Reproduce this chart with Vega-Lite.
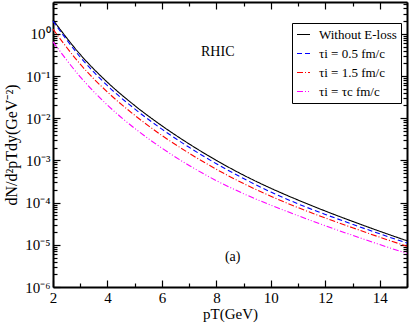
{
  "$schema": "https://vega.github.io/schema/vega-lite/v6.json",
  "autosize": {"type": "none"},
  "padding": {"left": 53, "top": 2, "right": 2, "bottom": 38},
  "width": 354,
  "height": 285,
  "background": "white",
  "config": {
    "view": {"stroke": null},
    "font": "Liberation Serif",
    "axis": {
      "grid": false,
      "domainColor": "black",
      "domainWidth": 2,
      "tickColor": "black",
      "tickWidth": 1.2,
      "labelFont": "Liberation Serif",
      "labelFontSize": 15,
      "labelColor": "black",
      "titleFont": "Liberation Serif",
      "titleFontSize": 15,
      "titleFontWeight": "normal",
      "titleColor": "black"
    }
  },
  "datasets": {
    "curves": [
      {"pT": 2, "y": 2.138, "s": "Without E-loss"},
      {"pT": 3, "y": 0.3236, "s": "Without E-loss"},
      {"pT": 4, "y": 0.07079, "s": "Without E-loss"},
      {"pT": 5, "y": 0.01995, "s": "Without E-loss"},
      {"pT": 6, "y": 0.006607, "s": "Without E-loss"},
      {"pT": 7, "y": 0.002455, "s": "Without E-loss"},
      {"pT": 8, "y": 0.001, "s": "Without E-loss"},
      {"pT": 9, "y": 0.0004467, "s": "Without E-loss"},
      {"pT": 10, "y": 0.0002188, "s": "Without E-loss"},
      {"pT": 11, "y": 0.0001148, "s": "Without E-loss"},
      {"pT": 12, "y": 0.0000631, "s": "Without E-loss"},
      {"pT": 13, "y": 0.0000359, "s": "Without E-loss"},
      {"pT": 14, "y": 0.0000209, "s": "Without E-loss"},
      {"pT": 15, "y": 0.00001245, "s": "Without E-loss"},
      {"pT": 2, "y": 1.995, "s": "τi = 0.5 fm/c"},
      {"pT": 3, "y": 0.2818, "s": "τi = 0.5 fm/c"},
      {"pT": 4, "y": 0.05888, "s": "τi = 0.5 fm/c"},
      {"pT": 5, "y": 0.0166, "s": "τi = 0.5 fm/c"},
      {"pT": 6, "y": 0.005495, "s": "τi = 0.5 fm/c"},
      {"pT": 7, "y": 0.002042, "s": "τi = 0.5 fm/c"},
      {"pT": 8, "y": 0.0008318, "s": "τi = 0.5 fm/c"},
      {"pT": 9, "y": 0.0003715, "s": "τi = 0.5 fm/c"},
      {"pT": 10, "y": 0.0001778, "s": "τi = 0.5 fm/c"},
      {"pT": 11, "y": 0.00009333, "s": "τi = 0.5 fm/c"},
      {"pT": 12, "y": 0.00005248, "s": "τi = 0.5 fm/c"},
      {"pT": 13, "y": 0.00003055, "s": "τi = 0.5 fm/c"},
      {"pT": 14, "y": 0.0000182, "s": "τi = 0.5 fm/c"},
      {"pT": 15, "y": 0.00001097, "s": "τi = 0.5 fm/c"},
      {"pT": 2, "y": 1.288, "s": "τi = 1.5 fm/c"},
      {"pT": 3, "y": 0.1905, "s": "τi = 1.5 fm/c"},
      {"pT": 4, "y": 0.04169, "s": "τi = 1.5 fm/c"},
      {"pT": 5, "y": 0.01175, "s": "τi = 1.5 fm/c"},
      {"pT": 6, "y": 0.00389, "s": "τi = 1.5 fm/c"},
      {"pT": 7, "y": 0.001479, "s": "τi = 1.5 fm/c"},
      {"pT": 8, "y": 0.0006166, "s": "τi = 1.5 fm/c"},
      {"pT": 9, "y": 0.0002818, "s": "τi = 1.5 fm/c"},
      {"pT": 10, "y": 0.0001413, "s": "τi = 1.5 fm/c"},
      {"pT": 11, "y": 0.00007586, "s": "τi = 1.5 fm/c"},
      {"pT": 12, "y": 0.00004315, "s": "τi = 1.5 fm/c"},
      {"pT": 13, "y": 0.00002541, "s": "τi = 1.5 fm/c"},
      {"pT": 14, "y": 0.00001514, "s": "τi = 1.5 fm/c"},
      {"pT": 15, "y": 0.000009226, "s": "τi = 1.5 fm/c"},
      {"pT": 2, "y": 0.6457, "s": "τi = τc fm/c"},
      {"pT": 3, "y": 0.0955, "s": "τi = τc fm/c"},
      {"pT": 4, "y": 0.02042, "s": "τi = τc fm/c"},
      {"pT": 5, "y": 0.005754, "s": "τi = τc fm/c"},
      {"pT": 6, "y": 0.00195, "s": "τi = τc fm/c"},
      {"pT": 7, "y": 0.0007586, "s": "τi = τc fm/c"},
      {"pT": 8, "y": 0.0003311, "s": "τi = τc fm/c"},
      {"pT": 9, "y": 0.0001622, "s": "τi = τc fm/c"},
      {"pT": 10, "y": 0.0000871, "s": "τi = τc fm/c"},
      {"pT": 11, "y": 0.00004898, "s": "τi = τc fm/c"},
      {"pT": 12, "y": 0.00002818, "s": "τi = τc fm/c"},
      {"pT": 13, "y": 0.00001679, "s": "τi = τc fm/c"},
      {"pT": 14, "y": 0.00001012, "s": "τi = τc fm/c"},
      {"pT": 15, "y": 0.000006237, "s": "τi = τc fm/c"}
    ],
    "notes": [
      {"pT": 8.05, "y": 0.37, "label": "RHIC"},
      {"pT": 8.6, "y": 0.0000051, "label": "(a)"}
    ]
  },
  "resolve": {"axis": {"x": "independent", "y": "independent"}},
  "layer": [
    {
      "data": {"name": "curves"},
      "mark": {"type": "line", "strokeWidth": 1.1, "interpolate": "monotone"},
      "encoding": {
        "x": {
          "field": "pT", "type": "quantitative",
          "scale": {"domain": [2, 15], "nice": false, "zero": false},
          "axis": {
            "orient": "bottom",
            "title": "pT(GeV)",
            "titlePadding": 1,
            "values": [2,4,6,8,10,12,14],
            "tickSize": -7,
            "labelPadding": 10,
            "labelFlush": false
          }
        },
        "y": {
          "field": "y", "type": "quantitative",
          "scale": {"type": "log", "domain": [0.000001, 5.67], "nice": false, "zero": false},
          "axis": {
            "orient": "left",
            "title": "dN/d²pTdy(GeV⁻²)",
            "titleFontSize": 16,
            "titlePadding": 5,
            "values": [0.000001,0.00001,0.0001,0.001,0.01,0.1,1],
            "labelExpr": "['10⁻⁶','10⁻⁵','10⁻⁴','10⁻³','10⁻²','10⁻¹','10⁰'][round(log(datum.value)/LN10)+6]",
            "tickSize": -7,
            "labelPadding": 10,
            "labelFlush": false
          }
        },
        "color": {
          "field": "s", "type": "nominal",
          "scale": {
            "domain": ["Without E-loss", "τi = 0.5 fm/c", "τi = 1.5 fm/c", "τi = τc fm/c"],
            "range": ["#000000", "#0000ff", "#ff0000", "#ff00ff"]
          },
          "legend": {
            "title": null,
            "orient": "none",
            "legendX": 239,
            "legendY": 21,
            "strokeColor": "black",
            "fillColor": "white",
            "padding": 4,
            "rowPadding": 4,
            "symbolType": "stroke",
            "symbolSize": 169,
            "symbolStrokeWidth": 1.2,
            "labelFont": "Liberation Serif",
            "labelFontSize": 13,
            "labelColor": "black",
            "labelOffset": 8,
            "cornerRadius": 0
          }
        },
        "strokeDash": {
          "field": "s", "type": "nominal",
          "scale": {
            "domain": ["Without E-loss", "τi = 0.5 fm/c", "τi = 1.5 fm/c", "τi = τc fm/c"],
            "range": [[1, 0], [5, 3], [6, 2, 1, 2], [6, 2, 1, 2, 1, 2]]
          },
          "legend": {
            "title": null,
            "orient": "none",
            "legendX": 239,
            "legendY": 21,
            "strokeColor": "black",
            "fillColor": "white",
            "padding": 4,
            "rowPadding": 4,
            "symbolType": "stroke",
            "symbolSize": 169,
            "symbolStrokeWidth": 1.2,
            "labelFont": "Liberation Serif",
            "labelFontSize": 13,
            "labelColor": "black",
            "labelOffset": 8,
            "cornerRadius": 0
          }
        }
      }
    },
    {
      "data": {"name": "curves"},
      "mark": {"type": "line", "strokeOpacity": 0},
      "encoding": {
        "detail": {"field": "s", "type": "nominal"},
        "x": {
          "field": "pT", "type": "quantitative",
          "axis": {"orient": "top", "title": null, "labels": false, "values": [2,4,6,8,10,12,14], "tickSize": -7}
        },
        "y": {
          "field": "y", "type": "quantitative",
          "axis": {"orient": "right", "title": null, "labels": false, "values": [0.000001,0.00001,0.0001,0.001,0.01,0.1,1], "tickSize": -7}
        }
      }
    },
    {
      "data": {"name": "curves"},
      "mark": {"type": "line", "strokeOpacity": 0},
      "encoding": {
        "detail": {"field": "s", "type": "nominal"},
        "x": {
          "field": "pT", "type": "quantitative",
          "axis": {"orient": "bottom", "title": null, "labels": false, "domain": false, "values": [3,5,7,9,11,13,15], "tickSize": -4}
        },
        "y": {
          "field": "y", "type": "quantitative",
          "axis": {"orient": "left", "title": null, "labels": false, "domain": false, "tickSize": -4,
            "values": [0.000002,0.000003,0.000004,0.000005,0.000006,0.000007,0.000008,0.000009,0.00002,0.00003,0.00004,0.00005,0.00006,0.00007,0.00008,0.00009,0.0002,0.0003,0.0004,0.0005,0.0006,0.0007,0.0008,0.0009,0.002,0.003,0.004,0.005,0.006,0.007,0.008,0.009,0.02,0.03,0.04,0.05,0.06,0.07,0.08,0.09,0.2,0.3,0.4,0.5,0.6,0.7,0.8,0.9,2,3,4,5]}
        }
      }
    },
    {
      "data": {"name": "curves"},
      "mark": {"type": "line", "strokeOpacity": 0},
      "encoding": {
        "detail": {"field": "s", "type": "nominal"},
        "x": {
          "field": "pT", "type": "quantitative",
          "axis": {"orient": "top", "title": null, "labels": false, "domain": false, "values": [3,5,7,9,11,13,15], "tickSize": -4}
        },
        "y": {
          "field": "y", "type": "quantitative",
          "axis": {"orient": "right", "title": null, "labels": false, "domain": false, "tickSize": -4,
            "values": [0.000002,0.000003,0.000004,0.000005,0.000006,0.000007,0.000008,0.000009,0.00002,0.00003,0.00004,0.00005,0.00006,0.00007,0.00008,0.00009,0.0002,0.0003,0.0004,0.0005,0.0006,0.0007,0.0008,0.0009,0.002,0.003,0.004,0.005,0.006,0.007,0.008,0.009,0.02,0.03,0.04,0.05,0.06,0.07,0.08,0.09,0.2,0.3,0.4,0.5,0.6,0.7,0.8,0.9,2,3,4,5]}
        }
      }
    },
    {
      "data": {"name": "notes"},
      "mark": {"type": "text", "font": "Liberation Serif", "fontSize": 14, "color": "black"},
      "encoding": {
        "x": {"field": "pT", "type": "quantitative", "axis": null},
        "y": {"field": "y", "type": "quantitative", "axis": null},
        "text": {"field": "label"}
      }
    }
  ]
}
